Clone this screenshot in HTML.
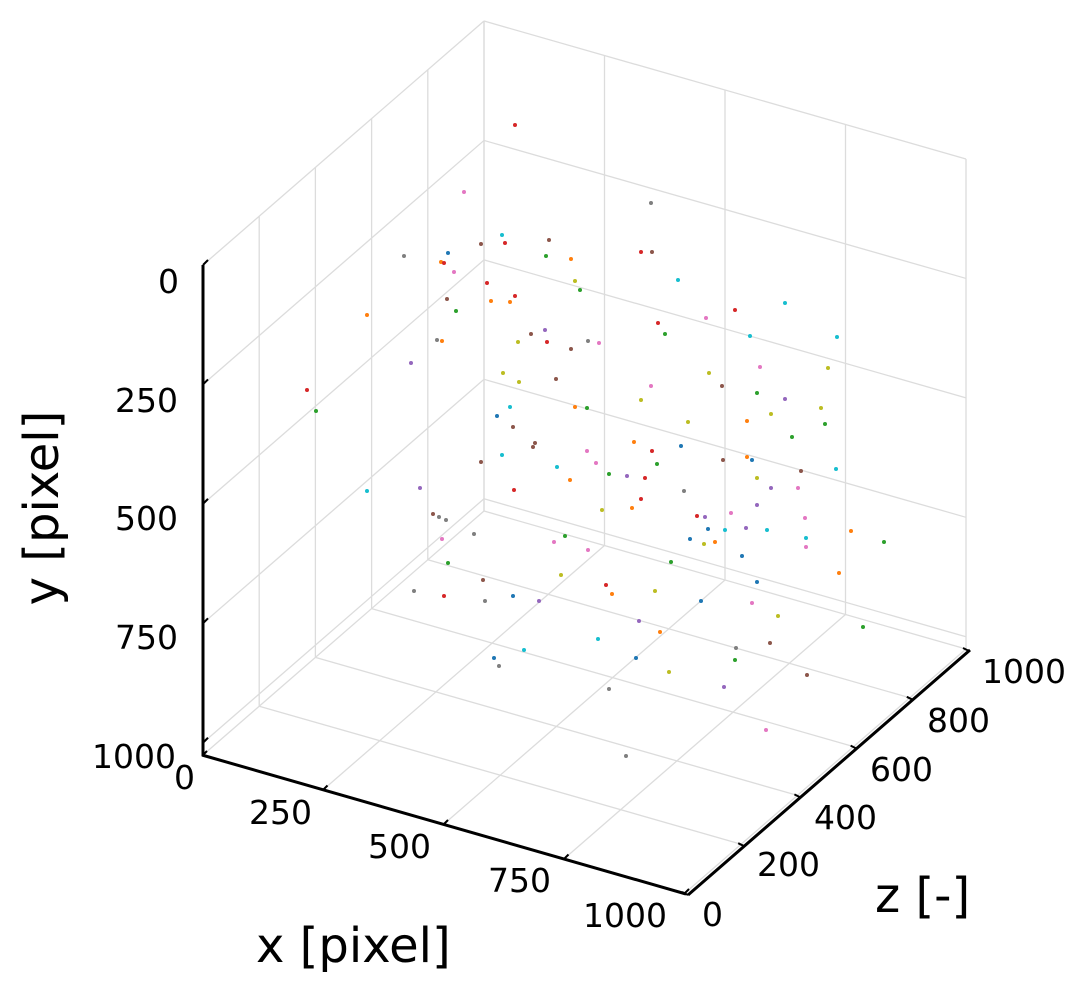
<!DOCTYPE html>
<html><head><meta charset="utf-8"><style>body{margin:0;background:#fff}svg{display:block}</style></head><body>
<svg width="1090" height="998" viewBox="0 0 1090 998" xmlns="http://www.w3.org/2000/svg" font-family="DejaVu Sans, Liberation Sans, sans-serif">
<g id="grid" stroke="#dcdcdc" stroke-width="1.3" fill="none"></g>
<g id="pts"></g>
<g stroke="#000" stroke-width="3" fill="none">
<line x1="203" y1="265" x2="203" y2="756"/>
<line x1="202" y1="755" x2="686" y2="894"/>
<line x1="688" y1="895" x2="970" y2="650"/>
</g>
<g id="ticks" stroke="#000" stroke-width="2"></g>
<g font-size="33" fill="#000">
<text x="158" y="293">0</text>
<text x="115" y="412">250</text>
<text x="115" y="530">500</text>
<text x="115" y="649">750</text>
<text x="92" y="768">1000</text>
<text x="174" y="789">0</text>
<text x="249" y="824">250</text>
<text x="368" y="858">500</text>
<text x="488" y="892">750</text>
<text x="583" y="927">1000</text>
<text x="702" y="926">0</text>
<text x="757" y="876">200</text>
<text x="814" y="829">400</text>
<text x="870" y="781">600</text>
<text x="927" y="732">800</text>
<text x="982" y="683">1000</text>
</g>
<g font-size="48" fill="#000">
<text x="256" y="962">x [pixel]</text>
<text x="875" y="912">z [-]</text>
<text transform="translate(58,508) rotate(-90)" text-anchor="middle">y [pixel]</text>
</g>
<script>
const g=document.getElementById('grid'),t=document.getElementById('ticks'),P=document.getElementById('pts');
function L(p,a,b,c,d){const l=document.createElementNS('http://www.w3.org/2000/svg','line');l.setAttribute('x1',a);l.setAttribute('y1',b);l.setAttribute('x2',c);l.setAttribute('y2',d);p.appendChild(l);}
const O=[203,755],X=[482,138],Z=[281,-244],Y=[0,-490];
function pt(x,y,z){return [O[0]+X[0]*x+Z[0]*z,O[1]+X[1]*x+Z[1]*z+Y[1]*(1-y)];}
for(let k=0;k<=4;k++){const x=k/4;
 let a=pt(x,1,0),b=pt(x,1,1);L(g,a[0],a[1],b[0],b[1]);
 a=pt(x,1,1);b=pt(x,0,1);L(g,a[0],a[1],b[0],b[1]);
 a=pt(x,1,0);L(t,a[0],a[1],a[0]+4,a[1]-4);}
for(let k=0;k<=5;k++){const z=k/5;
 let a=pt(0,1,z),b=pt(1,1,z);L(g,a[0],a[1],b[0],b[1]);
 a=pt(0,1,z);b=pt(0,0,z);L(g,a[0],a[1],b[0],b[1]);
 a=pt(1,1,z);L(t,a[0]+3,a[1]+2,a[0]-3,a[1]-1);}
for(let k=0;k<=4;k++){const y=k/4*0.975;
 let a=pt(0,y,0),b=pt(0,y,1);L(g,a[0],a[1],b[0],b[1]);
 a=pt(0,y,1);b=pt(1,y,1);L(g,a[0],a[1],b[0],b[1]);
 a=pt(0,y,0);L(t,a[0],a[1],a[0]+5,a[1]-5);}
const C={b:'#1f77b4',o:'#ff7f0e',g:'#2ca02c',r:'#d62728',p:'#9467bd',n:'#8c564b',k:'#e377c2',y:'#7f7f7f',l:'#bcbd22',c:'#17becf'};
const D="515,125,r;464,192,k;651,203,y;502,235,c;448,253,b;404,256,y;481,244,n;505,243,r;549,240,n;546,256,g;571,259,o;441,262,o;444,263,r;454,272,k;641,252,r;652,252,n;487,283,r;575,281,l;580,290,g;678,280,c;367,315,o;447,299,n;491,301,o;510,302,o;515,296,r;456,311,g;735,310,r;785,303,c;706,318,k;658,323,r;665,334,g;531,334,n;545,330,p;437,340,y;442,341,o;518,342,l;547,342,r;588,341,y;599,343,k;571,349,n;750,336,c;837,337,c;411,363,p;760,367,k;828,368,l;503,373,l;519,382,l;556,379,n;709,373,l;651,386,k;722,386,n;307,390,r;757,393,g;785,399,p;641,400,l;316,411,g;510,407,c;497,416,b;575,407,o;587,408,g;821,408,l;771,414,l;825,424,g;747,421,o;688,422,l;513,427,n;535,443,n;533,447,n;587,451,k;634,442,o;652,451,r;681,446,b;792,437,g;502,455,c;481,462,n;596,463,k;557,467,c;570,480,o;609,474,g;627,476,p;645,478,r;657,464,g;747,457,o;723,460,n;752,460,b;801,471,n;836,469,c;757,478,l;771,488,p;798,488,k;367,491,c;420,488,p;514,490,r;684,491,y;641,499,r;757,505,p;602,510,l;632,508,o;433,514,n;439,517,y;446,520,y;697,516,r;705,517,p;708,529,b;731,513,k;725,530,c;746,528,p;767,530,c;805,518,k;851,531,o;884,542,g;442,539,k;474,534,y;565,536,g;554,542,k;588,550,k;690,539,b;704,544,l;715,542,o;742,556,b;806,538,c;806,547,k;671,562,g;448,563,g;561,575,l;839,573,o;483,580,n;606,585,r;757,582,b;414,591,y;444,596,r;485,601,y;513,596,b;539,601,p;612,594,o;655,591,l;701,601,b;752,603,k;778,616,l;639,621,p;660,632,o;863,627,g;770,643,n;598,639,c;736,648,y;524,650,c;494,658,b;499,666,y;636,658,b;735,660,g;669,672,l;807,675,n;609,689,y;724,687,p;766,730,k;626,756,y";
D.split(';').forEach(s=>{const[a,b,c]=s.split(',');const e=document.createElementNS('http://www.w3.org/2000/svg','circle');e.setAttribute('cx',a);e.setAttribute('cy',b);e.setAttribute('r','2');e.setAttribute('fill',C[c]);P.appendChild(e);});
</script>
</svg>
</body></html>
